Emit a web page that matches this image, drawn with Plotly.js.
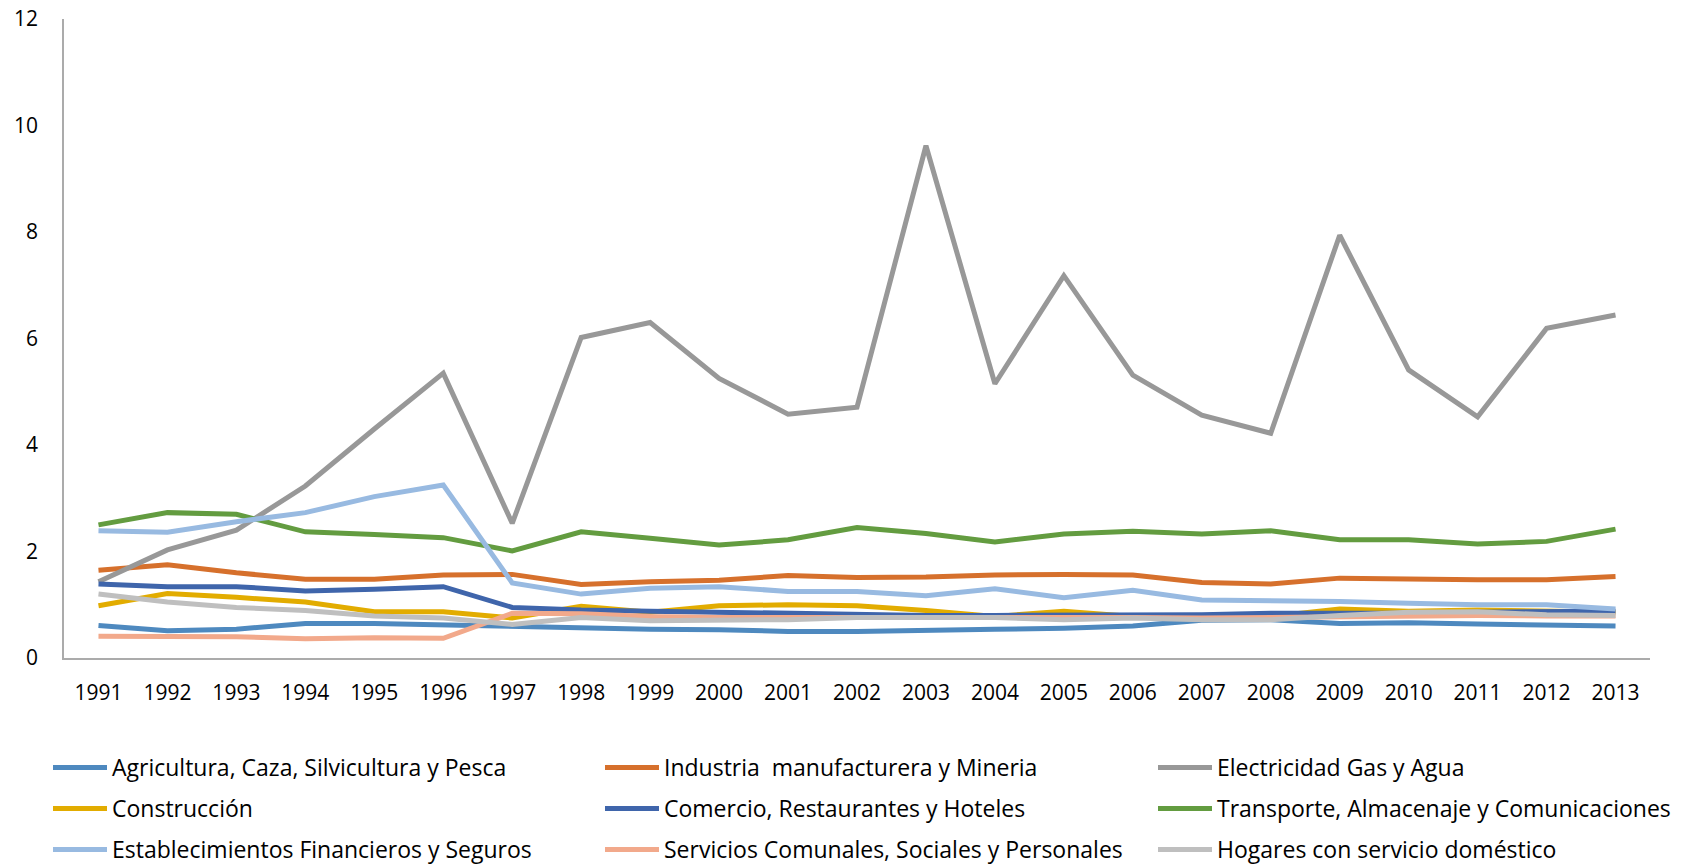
<!DOCTYPE html>
<html>
<head>
<meta charset="utf-8">
<script src="https://cdn.plot.ly/plotly-3.0.1.min.js"></script>
<style>html,body{margin:0;padding:0;background:#fff;}#chart{width:1688px;height:865px;}</style>
</head>
<body>
<div id="chart"></div>
<script>
var years = ["1991","1992","1993","1994","1995","1996","1997","1998","1999","2000","2001","2002","2003","2004","2005","2006","2007","2008","2009","2010","2011","2012","2013"];

var seriesNames = [
  "Agricultura, Caza, Silvicultura y Pesca",
  "Industria  manufacturera y Mineria",
  "Electricidad Gas y Agua",
  "Construcción",
  "Comercio, Restaurantes y Hoteles",
  "Transporte, Almacenaje y Comunicaciones",
  "Establecimientos Financieros y Seguros",
  "Servicios Comunales, Sociales y Personales",
  "Hogares con servicio doméstico"
];

var agricultura  = [0.61,0.51,0.54,0.65,0.65,0.62,0.59,0.56,0.54,0.53,0.50,0.50,0.53,0.54,0.56,0.60,0.71,0.72,0.65,0.66,0.64,0.62,0.60];
var industria    = [1.65,1.75,1.60,1.48,1.48,1.56,1.57,1.38,1.43,1.46,1.55,1.51,1.52,1.56,1.57,1.56,1.42,1.39,1.50,1.48,1.47,1.47,1.53];
var electricidad = [1.43,2.03,2.40,3.23,4.30,5.35,2.53,6.02,6.30,5.25,4.58,4.71,9.62,5.15,7.18,5.31,4.56,4.22,7.94,5.41,4.53,6.19,6.44];
var construccion = [0.98,1.21,1.14,1.05,0.87,0.87,0.75,0.97,0.86,0.98,1.00,0.98,0.89,0.78,0.88,0.78,0.76,0.78,0.92,0.88,0.90,0.88,0.86];
var comercio     = [1.39,1.34,1.34,1.26,1.29,1.34,0.95,0.90,0.88,0.86,0.83,0.80,0.80,0.80,0.80,0.79,0.81,0.84,0.83,0.84,0.86,0.86,0.88];
var transporte   = [2.50,2.73,2.70,2.37,2.32,2.26,2.01,2.37,2.25,2.12,2.22,2.45,2.34,2.18,2.33,2.38,2.33,2.39,2.22,2.22,2.14,2.19,2.42];
var financieros  = [2.39,2.36,2.56,2.73,3.03,3.25,1.41,1.20,1.31,1.34,1.25,1.25,1.17,1.30,1.13,1.27,1.09,1.08,1.06,1.03,1.00,1.00,0.92];
var servicios    = [0.41,0.41,0.40,0.36,0.38,0.37,0.84,0.83,0.78,0.76,0.76,0.78,0.77,0.78,0.77,0.76,0.75,0.76,0.78,0.80,0.80,0.79,0.79];
var hogares      = [1.20,1.05,0.95,0.89,0.79,0.75,0.63,0.76,0.70,0.71,0.72,0.76,0.75,0.76,0.72,0.75,0.72,0.72,0.80,0.86,0.87,0.81,0.80];

var yTicks = [0,2,4,6,8,10,12];

var allValues = [agricultura, industria, electricidad, construccion, comercio, transporte, financieros, servicios, hogares];
var colors = ["#4E89BF","#D6702C","#989898","#E2AC00","#3F65AB","#639C40","#98BAE1","#F2A98B","#BFBFBF"];

// legend grid: 3 columns x 3 rows (pixel positions in the 1688x865 page)
var legendColX = [48, 600, 1153];
var legendRowY = [767.5, 808.5, 849.5];

var traces = allValues.map(function(vals, i){
  return {
    type: "scatter",
    mode: "lines",
    x: years,
    y: vals,
    name: seriesNames[i],
    legend: i === 0 ? "legend" : "legend" + (i + 1),
    line: {color: colors[i], width: 5, shape: "linear"},
    hoverinfo: "x+y+name"
  };
});

var layout = {
  width: 1688,
  height: 865,
  margin: {l: 63.5, r: 38, t: 19, b: 207},
  paper_bgcolor: "#fff",
  plot_bgcolor: "#fff",
  font: {family: "Open Sans, sans-serif", size: 21, color: "#000"},
  showlegend: true,
  xaxis: {
    type: "category",
    range: [-0.5, 22.5],
    showline: true,
    linecolor: "#ABABAB",
    linewidth: 1.5,
    showgrid: false,
    zeroline: false,
    ticks: "",
    ticklabelstandoff: 15,
    tickfont: {family: "Open Sans, sans-serif", size: 21, color: "#000"}
  },
  yaxis: {
    range: [0, 12],
    tickvals: yTicks,
    ticktext: yTicks.map(String),
    showline: true,
    linecolor: "#ABABAB",
    linewidth: 1.5,
    showgrid: false,
    zeroline: false,
    ticks: "",
    ticklabelstandoff: 20,
    tickfont: {family: "Open Sans, sans-serif", size: 21, color: "#000"}
  }
};

for (var i = 0; i < 9; i++) {
  var key = i === 0 ? "legend" : "legend" + (i + 1);
  layout[key] = {
    orientation: "h",
    xref: "container",
    yref: "container",
    x: legendColX[i % 3] / 1688,
    y: 1 - legendRowY[Math.floor(i / 3)] / 865,
    xanchor: "left",
    yanchor: "middle",
    itemwidth: 54,
    font: {family: "Open Sans, sans-serif", size: 23, color: "#000"},
    bgcolor: "rgba(0,0,0,0)"
  };
}

Plotly.newPlot("chart", traces, layout, {displayModeBar: false, responsive: false});
</script>
</body>
</html>
